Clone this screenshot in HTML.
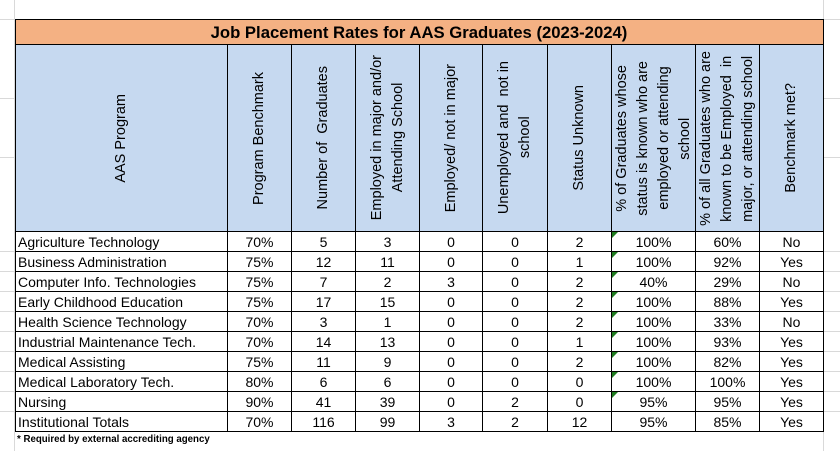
<!DOCTYPE html>
<html><head><meta charset="utf-8"><style>
body{margin:0;width:840px;height:451px;background:#fff;position:relative;overflow:hidden;font-family:"Liberation Sans",sans-serif;color:#000}
.a{position:absolute}
.h{position:absolute;height:1px;background:#000}
.v{position:absolute;width:1px;background:#000}
.g{position:absolute;background:#d9d9d9}
.c{position:absolute;height:20px;line-height:21px;font-size:14px;text-align:center;white-space:nowrap}
.hd{position:absolute;top:45px;height:186px;display:flex;align-items:center;justify-content:center;font-size:14.5px}
.hd span{writing-mode:vertical-rl;transform:rotate(180deg);text-align:center;line-height:21px;white-space:nowrap}
.tri{position:absolute;width:0;height:0;border-top:6px solid #1e7b1e;border-right:6px solid transparent}
</style></head><body>
<div class="g" style="left:14px;top:0;width:1px;height:451px"></div>
<div class="g" style="left:823px;top:0;width:1px;height:451px"></div>
<div class="g" style="left:0;top:19px;width:14px;height:1px"></div>
<div class="g" style="left:0;top:98px;width:14px;height:1px"></div>
<div class="g" style="left:0;top:157px;width:14px;height:1px"></div>
<div class="g" style="left:824px;top:19px;width:16px;height:1px"></div>
<div class="g" style="left:824px;top:98px;width:16px;height:1px"></div>
<div class="g" style="left:824px;top:157px;width:16px;height:1px"></div>
<div class="g" style="left:0;top:251px;width:14px;height:1px"></div><div class="g" style="left:0;top:271px;width:14px;height:1px"></div><div class="g" style="left:0;top:291px;width:14px;height:1px"></div><div class="g" style="left:0;top:311px;width:14px;height:1px"></div><div class="g" style="left:0;top:331px;width:14px;height:1px"></div><div class="g" style="left:0;top:351px;width:14px;height:1px"></div><div class="g" style="left:0;top:371px;width:14px;height:1px"></div><div class="g" style="left:0;top:391px;width:14px;height:1px"></div><div class="g" style="left:0;top:411px;width:14px;height:1px"></div>
<div class="g" style="left:824px;top:251px;width:16px;height:1px"></div><div class="g" style="left:824px;top:271px;width:16px;height:1px"></div><div class="g" style="left:824px;top:291px;width:16px;height:1px"></div><div class="g" style="left:824px;top:311px;width:16px;height:1px"></div><div class="g" style="left:824px;top:331px;width:16px;height:1px"></div><div class="g" style="left:824px;top:351px;width:16px;height:1px"></div><div class="g" style="left:824px;top:371px;width:16px;height:1px"></div><div class="g" style="left:824px;top:391px;width:16px;height:1px"></div><div class="g" style="left:824px;top:411px;width:16px;height:1px"></div>

<div class="a" style="left:15px;top:19px;width:808px;height:25px;background:#F4B183"></div>
<div class="a" style="left:15px;top:44px;width:808px;height:187px;background:#C6D9F0"></div>
<div class="a" style="left:15px;top:19px;width:808px;height:25px;line-height:27px;text-align:center;font-weight:bold;font-size:16.7px">Job Placement Rates for AAS Graduates (2023-2024)</div>

<div class="h" style="left:15px;top:19px;width:809px"></div>
<div class="h" style="left:15px;top:44px;width:809px"></div>
<div class="h" style="left:15px;top:231px;width:809px"></div>
<div class="h" style="left:15px;top:251px;width:809px"></div>
<div class="h" style="left:15px;top:271px;width:809px"></div>
<div class="h" style="left:15px;top:291px;width:809px"></div>
<div class="h" style="left:15px;top:311px;width:809px"></div>
<div class="h" style="left:15px;top:331px;width:809px"></div>
<div class="h" style="left:15px;top:351px;width:809px"></div>
<div class="h" style="left:15px;top:371px;width:809px"></div>
<div class="h" style="left:15px;top:391px;width:809px"></div>
<div class="h" style="left:15px;top:411px;width:809px"></div>
<div class="h" style="left:15px;top:431px;width:809px"></div>
<div class="v" style="left:15px;top:19px;height:413px"></div>
<div class="v" style="left:823px;top:19px;height:413px"></div>
<div class="v" style="left:227px;top:44px;height:388px"></div>
<div class="v" style="left:291px;top:44px;height:388px"></div>
<div class="v" style="left:355px;top:44px;height:388px"></div>
<div class="v" style="left:419px;top:44px;height:388px"></div>
<div class="v" style="left:482px;top:44px;height:388px"></div>
<div class="v" style="left:547px;top:44px;height:388px"></div>
<div class="v" style="left:611px;top:44px;height:388px"></div>
<div class="v" style="left:695px;top:44px;height:388px"></div>
<div class="v" style="left:759px;top:44px;height:388px"></div>

<div class="hd" style="left:16px;width:211px"><span>AAS Program</span></div>
<div class="hd" style="left:228px;width:63px"><span>Program Benchmark</span></div>
<div class="hd" style="left:292px;width:63px"><span>Number of &nbsp;Graduates</span></div>
<div class="hd" style="left:356px;width:63px"><span>Employed in major and/or<br>Attending School</span></div>
<div class="hd" style="left:420px;width:62px"><span>Employed/ not in major</span></div>
<div class="hd" style="left:483px;width:64px"><span>Unemployed and &nbsp;not in<br>school</span></div>
<div class="hd" style="left:548px;width:63px"><span>Status Unknown</span></div>
<div class="hd" style="left:612px;width:83px"><span>% of Graduates whose<br>status is known who are<br>employed or attending<br>school</span></div>
<div class="hd" style="left:696px;width:63px"><span>% of all Graduates who are<br>known to be Employed &nbsp;in<br>major, or attending school</span></div>
<div class="hd" style="left:760px;width:63px"><span>Benchmark met?</span></div>

<div id="rows"></div>
<script>
var d=[["Agriculture Technology","70%","5","3","0","0","2","100%","60%","No"],
["Business Administration","75%","12","11","0","0","1","100%","92%","Yes"],
["Computer Info. Technologies","75%","7","2","3","0","2","40%","29%","No"],
["Early Childhood Education","75%","17","15","0","0","2","100%","88%","Yes"],
["Health Science Technology","70%","3","1","0","0","2","100%","33%","No"],
["Industrial Maintenance Tech.","70%","14","13","0","0","1","100%","93%","Yes"],
["Medical Assisting","75%","11","9","0","0","2","100%","82%","Yes"],
["Medical Laboratory Tech.","80%","6","6","0","0","0","100%","100%","Yes"],
["Nursing","90%","41","39","0","2","0","95%","95%","Yes"],
["Institutional Totals","70%","116","99","3","2","12","95%","85%","Yes"]];
var b=[15,227,291,355,419,482,547,611,695,759,823],h="";
d.forEach(function(r,i){var y=231+i*20+1;
r.forEach(function(t,j){var l=b[j]+1,w=b[j+1]-b[j]-1;
h+='<div class="c" style="top:'+y+'px;left:'+(j?l:l+2)+'px;width:'+w+'px;'+(j?'':'text-align:left')+'">'+t+'</div>';});
if(i<9)h+='<div class="tri" style="left:612px;top:'+y+'px"></div>';});
document.getElementById("rows").innerHTML=h;
</script>
<div class="a" style="left:17px;top:433px;font-size:9.7px;font-weight:bold;line-height:13px">* Required by external accrediting agency</div>
</body></html>
